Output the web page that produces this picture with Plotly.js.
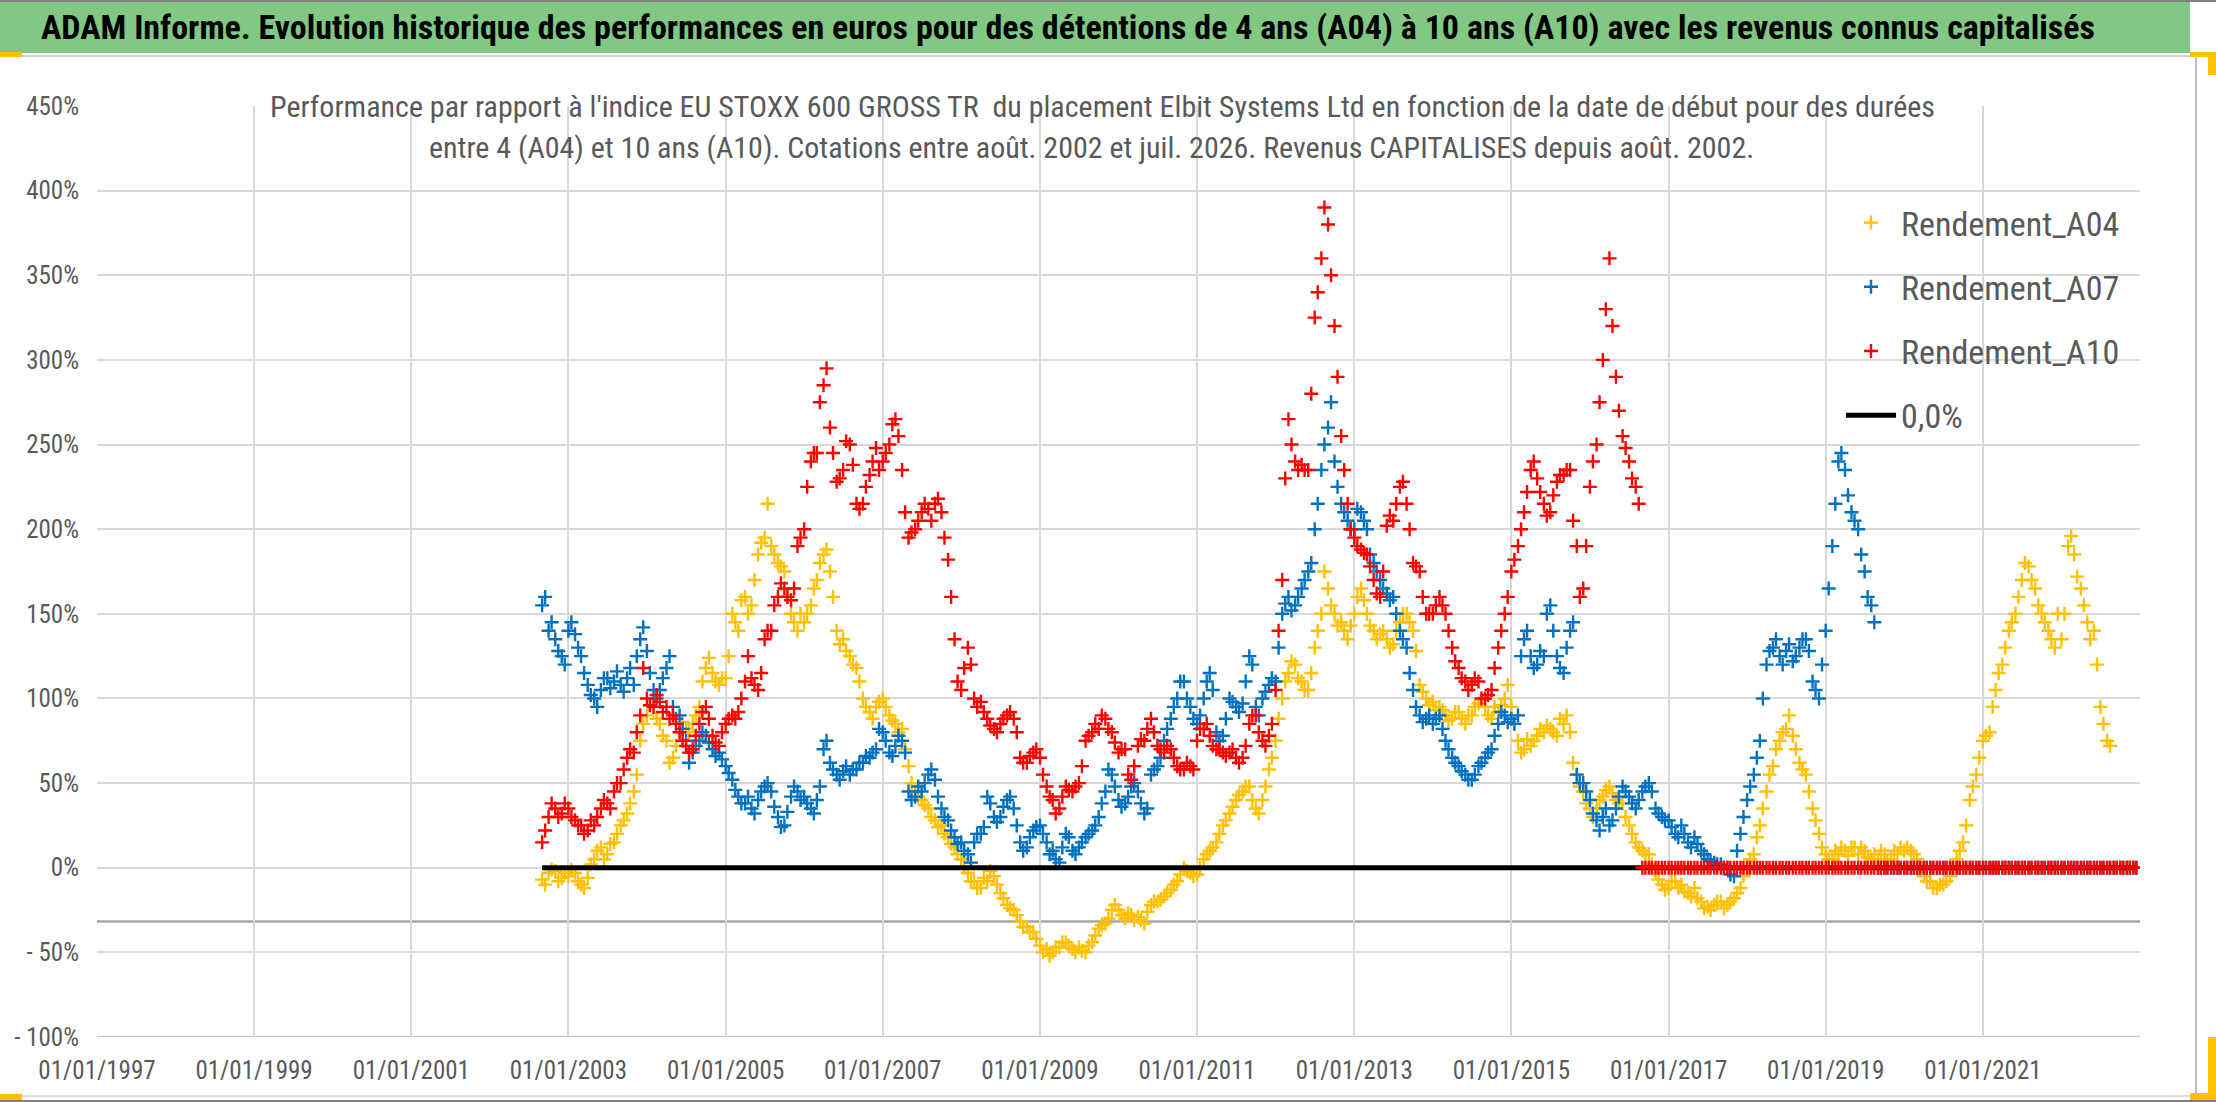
<!DOCTYPE html>
<html>
<head>
<meta charset="utf-8">
<script src="https://cdn.plot.ly/plotly-3.0.1.min.js"></script>
<style>
html,body{margin:0;padding:0;background:#fff;}
#chart{width:2216px;height:1102px;}
</style>
</head>
<body>
<div id="chart"></div>
<script>
// ---------------- DATA ----------------
// Two readings per month: one at the 1st and one at the 15th, starting this month.
const startMonth = '2002-09';

// Rendement_A04 (%), Sep 2002 -> Dec 2022, reading on the 1st of each month
const a04 = [
  -7, -3, -2, -6,
  -5, -3, -10, -6, 5, 12, 8, 15, 25, 32, 45, 75,
  90, 95, 85, 75, 65, 80, 82, 85, 95, 118, 115, 108,
  112, 150, 140, 160, 155, 185, 195, 190, 180, 175, 150, 140,
  145, 155, 170, 185, 175, 140, 135, 125, 118, 100, 92, 95,
  100, 90, 85, 82, 60, 45, 40, 35, 28, 25, 18, 12,
  5, -3, -8, -12, -8, -5, -15, -22, -25, -32, -35, -38,
  -46, -48, -50, -47, -44, -48, -47, -50, -44, -36, -33, -25,
  -25, -30, -28, -29, -33, -22, -20, -17, -13, -8, 0, -3,
  -4, 5, 10, 15, 25, 32, 40, 45, 48, 35, 40, 58,
  75, 100, 115, 120, 110, 105, 130, 150, 165, 150, 145, 135,
  150, 165, 150, 140, 138, 135, 132, 145, 150, 140, 108, 100,
  98, 95, 90, 88, 92, 85, 90, 97, 95, 88, 92, 100,
  95, 75, 70, 72, 78, 80, 82, 78, 85, 80, 55, 45,
  35, 35, 42, 48, 40, 38, 25, 15, 10, 8, -3, -10,
  -12, -8, -10, -15, -12, -20, -23, -22, -20, -22, -18, -12,
  0, 8, 25, 45, 60, 75, 82, 78, 62, 55, 35, 20,
  8, 5, 8, 10, 12, 8, 10, 5, 5, 8, 5, 8,
  10, 10, 5, -5, -8, -12, -10, -5, 5, 15, 40, 55,
  75, 80, 105, 120, 140, 150, 170, 178, 165, 150, 140, 130,
  135, 190, 185, 165, 145, 140, 95, 75, 0, 0, 0, 0
];
// Rendement_A04 (%), reading on the 15th of each month
const a04Mid = [
  -10, -1, -8, -3,
  -1, -8, -12, 2, 10, 5, 14, 20, 28, 38, 55, 85,
  96, 88, 78, 62, 72, 86, 80, 90, 110, 124, 110, 112,
  125, 145, 158, 150, 170, 192, 215, 185, 178, 160, 145, 150,
  150, 165, 180, 188, 160, 132, 128, 120, 110, 95, 88, 98,
  95, 87, 80, 70, 50, 42, 37, 30, 24, 20, 14, 8,
  0, -8, -12, -6, -2, -10, -18, -24, -28, -35, -38, -42,
  -50, -52, -47, -44, -46, -50, -49, -46, -40, -34, -30, -22,
  -28, -27, -31, -31, -26, -20, -19, -15, -10, -4, -2, -5,
  0, 8, 12, 20, 28, 36, 43, 48, 40, 32, 48, 65,
  88, 110, 122, 112, 105, 115, 140, 175, 155, 143, 140, 143,
  160, 158, 143, 135, 140, 130, 140, 150, 145, 128, 104, 96,
  93, 93, 87, 92, 88, 90, 95, 99, 90, 95, 96, 108,
  85, 68, 76, 75, 82, 84, 80, 88, 90, 62, 48, 38,
  30, 40, 46, 44, 38, 30, 20, 12, 8, 2, -7, -13,
  -8, -12, -14, -17, -18, -24, -25, -20, -24, -20, -15, -5,
  5, 18, 35, 55, 70, 80, 90, 70, 58, 45, 28, 12,
  5, 10, 12, 7, 12, 12, 6, 8, 10, 4, 10, 12,
  12, 8, 0, -8, -12, -10, -8, 0, 10, 25, 48, 65,
  78, 95, 115, 130, 145, 160, 180, 170, 155, 145, 135, 150,
  150, 196, 172, 155, 135, 120, 85, 72, 0, 0, 0, 0
];

// Rendement_A07 (%), reading on the 1st of each month
const a07 = [
  155, 140, 135, 125,
  140, 138, 125, 108, 100, 105, 112, 110, 108, 112, 108, 135,
  128, 105, 105, 118, 95, 90, 75, 68, 75, 78, 70, 68,
  60, 52, 42, 38, 35, 40, 48, 45, 30, 25, 42, 45,
  42, 35, 40, 70, 62, 55, 57, 55, 58, 62, 65, 70,
  80, 68, 72, 75, 45, 42, 45, 55, 52, 35, 28, 18,
  15, 8, 15, 20, 42, 30, 30, 40, 35, 15, 12, 22,
  25, 15, 10, 3, 20, 10, 12, 18, 22, 30, 45, 55,
  40, 38, 48, 45, 32, 55, 60, 75, 88, 100, 110, 95,
  85, 100, 115, 80, 78, 100, 95, 97, 125, 95, 100, 108,
  110, 150, 160, 155, 165, 175, 200, 235, 260, 240, 215, 205,
  200, 210, 200, 180, 170, 162, 160, 140, 130, 105, 90, 88,
  85, 90, 75, 65, 60, 55, 52, 60, 65, 70, 85, 90,
  88, 90, 135, 125, 120, 125, 155, 125, 115, 140, 55, 50,
  40, 28, 30, 25, 35, 48, 42, 35, 45, 50, 35, 30,
  28, 20, 25, 15, 18, 10, 5, 3, 2, 0, -5, 20,
  40, 55, 75, 120, 130, 125, 128, 122, 130, 135, 110, 100,
  140, 190, 240, 235, 210, 200, 175, 155, 0, 0, 0, 0,
  0, 0, 0, 0, 0, 0, 0, 0, 0, 0, 0, 0,
  0, 0, 0, 0, 0, 0, 0, 0, 0, 0, 0, 0,
  0, 0, 0, 0, 0, 0, 0, 0, 0, 0, 0, 0
];
// Rendement_A07 (%), reading on the 15th of each month
const a07Mid = [
  160, 145, 128, 120,
  145, 130, 115, 102, 95, 112, 106, 116, 104, 118, 125, 142,
  115, 100, 112, 125, 88, 82, 62, 72, 80, 74, 66, 64,
  56, 46, 38, 42, 32, 45, 50, 36, 24, 33, 48, 40,
  38, 32, 48, 75, 58, 52, 60, 58, 62, 66, 68, 82,
  75, 66, 78, 68, 40, 48, 50, 58, 42, 30, 22, 14,
  10, 3, 20, 24, 38, 27, 36, 42, 25, 10, 18, 24,
  20, 8, 5, 12, 18, 8, 15, 20, 25, 38, 58, 48,
  36, 42, 50, 38, 35, 58, 65, 82, 95, 110, 100, 88,
  90, 110, 105, 75, 88, 98, 92, 110, 120, 90, 104, 112,
  130, 156, 152, 160, 170, 180, 215, 250, 275, 225, 210, 200,
  212, 205, 185, 175, 165, 158, 150, 135, 115, 95, 86, 90,
  88, 82, 70, 62, 57, 52, 55, 62, 68, 78, 92, 86,
  85, 125, 140, 118, 128, 150, 140, 118, 130, 145, 50, 45,
  32, 22, 35, 28, 42, 45, 38, 40, 48, 45, 32, 28,
  24, 18, 20, 12, 14, 8, 4, 2, 0, -4, 10, 30,
  48, 65, 100, 128, 135, 120, 132, 125, 135, 128, 105, 120,
  165, 215, 245, 220, 205, 185, 160, 145, 0, 0, 0, 0,
  0, 0, 0, 0, 0, 0, 0, 0, 0, 0, 0, 0,
  0, 0, 0, 0, 0, 0, 0, 0, 0, 0, 0, 0,
  0, 0, 0, 0, 0, 0, 0, 0, 0, 0, 0, 0
];

// Rendement_A10 (%), reading on the 1st of each month
const a10 = [
  15, 30, 35, 32,
  35, 28, 25, 22, 25, 35, 38, 45, 50, 65, 68, 90,
  100, 95, 98, 95, 90, 80, 72, 70, 85, 95, 78, 72,
  85, 90, 92, 110, 112, 105, 135, 140, 160, 165, 158, 190,
  200, 240, 245, 285, 260, 228, 235, 250, 215, 215, 232, 248,
  240, 250, 265, 235, 195, 200, 210, 212, 215, 210, 182, 135,
  105, 130, 100, 98, 88, 82, 85, 90, 88, 65, 62, 68,
  65, 48, 40, 35, 48, 45, 50, 75, 80, 82, 88, 80,
  68, 70, 52, 72, 75, 88, 72, 68, 70, 60, 58, 60,
  75, 82, 78, 70, 68, 68, 65, 65, 85, 90, 75, 78,
  105, 170, 265, 240, 238, 235, 325, 360, 380, 320, 255, 215,
  195, 188, 185, 170, 160, 202, 205, 225, 215, 180, 175, 150,
  150, 160, 150, 130, 118, 110, 108, 110, 100, 105, 130, 150,
  175, 190, 210, 235, 230, 215, 210, 228, 232, 235, 190, 165,
  225, 250, 300, 360, 290, 255, 240, 225, 0, 0, 0, 0,
  0, 0, 0, 0, 0, 0, 0, 0, 0, 0, 0, 0,
  0, 0, 0, 0, 0, 0, 0, 0, 0, 0, 0, 0,
  0, 0, 0, 0, 0, 0, 0, 0, 0, 0, 0, 0,
  0, 0, 0, 0, 0, 0, 0, 0, 0, 0, 0, 0,
  0, 0, 0, 0, 0, 0, 0, 0, 0, 0, 0, 0,
  0, 0, 0, 0, 0, 0, 0, 0, 0, 0, 0, 0
];
// Rendement_A10 (%), reading on the 15th of each month
const a10Mid = [
  22, 38, 30, 38,
  30, 25, 20, 28, 30, 40, 35, 50, 58, 70, 80, 118,
  96, 102, 92, 88, 85, 75, 68, 78, 92, 88, 74, 80,
  88, 88, 100, 125, 108, 115, 140, 155, 168, 160, 165, 195,
  225, 245, 275, 295, 245, 230, 252, 238, 212, 225, 240, 235,
  245, 262, 255, 210, 198, 205, 215, 205, 218, 195, 160, 110,
  118, 120, 95, 92, 84, 80, 88, 92, 80, 62, 66, 70,
  55, 42, 32, 42, 46, 48, 60, 78, 85, 90, 82, 74,
  70, 55, 60, 76, 82, 80, 70, 72, 65, 58, 62, 58,
  82, 85, 72, 70, 66, 70, 62, 72, 90, 80, 72, 85,
  140, 230, 250, 235, 235, 280, 340, 390, 350, 290, 235, 200,
  190, 186, 178, 162, 175, 208, 215, 228, 200, 178, 160, 150,
  155, 155, 140, 122, 112, 105, 112, 100, 102, 118, 140, 160,
  182, 200, 222, 240, 222, 208, 220, 232, 235, 205, 160, 190,
  240, 275, 330, 320, 270, 248, 230, 215, 0, 0, 0, 0,
  0, 0, 0, 0, 0, 0, 0, 0, 0, 0, 0, 0,
  0, 0, 0, 0, 0, 0, 0, 0, 0, 0, 0, 0,
  0, 0, 0, 0, 0, 0, 0, 0, 0, 0, 0, 0,
  0, 0, 0, 0, 0, 0, 0, 0, 0, 0, 0, 0,
  0, 0, 0, 0, 0, 0, 0, 0, 0, 0, 0, 0,
  0, 0, 0, 0, 0, 0, 0, 0, 0, 0, 0, 0
];

// Reference line (0,0%)
const zeroLineY = [0, 0];
// Horizontal axis crossing line (%)
const axisCross = -31.7;

// Axis ticks
const xTickVals = ['1997-01-01','1999-01-01','2001-01-01','2003-01-01','2005-01-01','2007-01-01',
                   '2009-01-01','2011-01-01','2013-01-01','2015-01-01','2017-01-01','2019-01-01','2021-01-01'];
const xTickText = ['01/01/1997','01/01/1999','01/01/2001','01/01/2003','01/01/2005','01/01/2007',
                   '01/01/2009','01/01/2011','01/01/2013','01/01/2015','01/01/2017','01/01/2019','01/01/2021'];
const yTickVals = [-100, -50, 0, 50, 100, 150, 200, 250, 300, 350, 400, 450];
const yTickText = ['- 100%', '- 50%', '0%', '50%', '100%', '150%', '200%', '250%', '300%', '350%', '400%', '450%'];

const seriesNames = ['Rendement_A04', 'Rendement_A07', 'Rendement_A10', '0,0%'];

const mainTitle = 'ADAM Informe. Evolution historique des performances en euros pour des détentions de 4 ans (A04) à 10 ans (A10) avec les revenus connus capitalisés';
const subLine1 = "Performance par rapport à l'indice EU STOXX 600 GROSS TR  du placement Elbit Systems Ltd en fonction de la date de début pour des durées";
const subLine2 = 'entre 4 (A04) et 10 ans (A10). Cotations entre août. 2002 et juil. 2026. Revenus CAPITALISES depuis août. 2002.';

// ---------------- BUILD ----------------
function monthDates(start, n, day) {
  let [y, m] = start.split('-').map(Number);
  const out = [];
  for (let i = 0; i < n; i++) {
    out.push(y + '-' + String(m).padStart(2, '0') + '-' + day);
    m++; if (m > 12) { m = 1; y++; }
  }
  return out;
}
const dates1 = monthDates(startMonth, a04.length, '01');
const dates15 = monthDates(startMonth, a04Mid.length, '15');
const allDates = dates1.concat(dates15);

const FONT = '"Liberation Sans Narrow", "Roboto Condensed", "Liberation Sans", Arial, sans-serif';
const GRAY = '#595959';

function markerTrace(name, y1, y15, color, rank) {
  return {
    type: 'scatter', mode: 'markers', name: name, x: allDates, y: y1.concat(y15),
    legendgroup: name, legendrank: rank,
    marker: { symbol: 'cross-thin', size: 10, color: color, line: { color: color, width: 2.4 } },
    hoverinfo: 'skip'
  };
}

const traces = [
  markerTrace(seriesNames[0], a04, a04Mid, '#FFC000', 1),
  markerTrace(seriesNames[1], a07, a07Mid, '#0070C0', 2),
  {
    type: 'scatter', mode: 'lines', name: seriesNames[3],
    x: [dates1[0], dates15[dates15.length - 1]], y: zeroLineY,
    legendgroup: 'zero', legendrank: 4,
    line: { color: '#000000', width: 5 }, hoverinfo: 'skip'
  },
  markerTrace(seriesNames[2], a10, a10Mid, '#FF0000', 3)
];

// plot-area geometry in pixels
const W = 2216, H = 1102;
const L = 97, R = 2140, T = 106, B = 1037;
const px = v => (v - L) / (R - L);
const py = v => (B - v) / (B - T);

const layout = {
  width: W, height: H,
  paper_bgcolor: '#ffffff', plot_bgcolor: '#ffffff',
  margin: { l: L, r: W - R, t: T, b: H - B, pad: 0 },
  font: { family: FONT, color: GRAY, size: 22 },
  showlegend: true,
  title: {
    text: mainTitle,
    font: { family: FONT, size: 34, color: '#000000', weight: 'bold' },
    x: px(1068), xanchor: 'center', xref: 'paper',
    y: 1 - 27 / H, yanchor: 'middle', yref: 'container'
  },
  xaxis: {
    type: 'date', range: ['1997-01-01', '2023-01-01'],
    tickmode: 'array', tickvals: xTickVals, ticktext: xTickText,
    showgrid: true, gridcolor: '#D9D9D9', gridwidth: 2,
    zeroline: false, showline: false, ticks: '',
    ticklabelstandoff: 16,
    tickfont: { family: FONT, size: 25, color: GRAY }
  },
  yaxis: {
    range: [-100, 450],
    tickmode: 'array', tickvals: yTickVals, ticktext: yTickText,
    showgrid: true, gridcolor: '#D9D9D9', gridwidth: 2,
    zeroline: false, showline: false, ticks: '',
    ticklabelstandoff: 17,
    tickfont: { family: FONT, size: 25, color: GRAY }
  },
  legend: {
    x: px(1841), xanchor: 'left', y: py(194), yanchor: 'top',
    bgcolor: 'rgba(255,255,255,0)', borderwidth: 0,
    font: { family: FONT, size: 34, color: GRAY },
    traceorder: 'grouped', tracegroupgap: 17, itemwidth: 50
  },
  shapes: [
    // green title bar
    { type: 'rect', xref: 'paper', yref: 'paper', x0: px(0), x1: px(2190), y0: py(53), y1: py(0),
      fillcolor: '#80C883', line: { width: 0 }, layer: 'below' },
    // separator under bar
    { type: 'line', xref: 'paper', yref: 'paper', x0: px(0), x1: px(2196), y0: py(56), y1: py(56),
      line: { color: '#D0D0D0', width: 2 } },
    // right chart border
    { type: 'line', xref: 'paper', yref: 'paper', x0: px(2196), x1: px(2196), y0: py(57), y1: py(1100),
      line: { color: '#BFBFBF', width: 2 } },
    // bottom border
    { type: 'line', xref: 'paper', yref: 'paper', x0: px(0), x1: px(2196), y0: py(1096), y1: py(1096),
      line: { color: '#D9D9D9', width: 2 } },
    { type: 'line', xref: 'paper', yref: 'paper', x0: px(0), x1: px(2216), y0: py(1101), y1: py(1101),
      line: { color: '#808080', width: 2 } },
    // top border
    { type: 'line', xref: 'paper', yref: 'paper', x0: px(0), x1: px(2216), y0: py(1), y1: py(1),
      line: { color: '#808080', width: 2 } },
    // orange selection handles
    { type: 'rect', xref: 'paper', yref: 'paper', x0: px(0), x1: px(22), y0: py(57), y1: py(52),
      fillcolor: '#FFC000', line: { width: 0 } },
    { type: 'rect', xref: 'paper', yref: 'paper', x0: px(0), x1: px(22), y0: py(1100), y1: py(1094),
      fillcolor: '#FFC000', line: { width: 0 } },
    { type: 'rect', xref: 'paper', yref: 'paper', x0: px(2190), x1: px(2216), y0: py(57), y1: py(52),
      fillcolor: '#FFC000', line: { width: 0 } },
    { type: 'rect', xref: 'paper', yref: 'paper', x0: px(2208), x1: px(2216), y0: py(75), y1: py(52),
      fillcolor: '#FFC000', line: { width: 0 } },
    { type: 'rect', xref: 'paper', yref: 'paper', x0: px(2208), x1: px(2216), y0: py(1100), y1: py(1037),
      fillcolor: '#FFC000', line: { width: 0 } },
    { type: 'rect', xref: 'paper', yref: 'paper', x0: px(2190), x1: px(2216), y0: py(1100), y1: py(1093),
      fillcolor: '#FFC000', line: { width: 0 } },
    // horizontal axis crossing line
    { type: 'line', xref: 'paper', yref: 'y', x0: 0, x1: 1, y0: axisCross, y1: axisCross,
      line: { color: '#A6A6A6', width: 2.5 }, layer: 'between' },
    // bottom axis line
    { type: 'line', xref: 'paper', yref: 'y', x0: 0, x1: 1, y0: -100, y1: -100,
      line: { color: '#C8C8C8', width: 2.5 }, layer: 'between' },
    // white box behind subtitle (hides gridlines)
    { type: 'rect', xref: 'paper', yref: 'paper', x0: px(256), x1: px(1946), y0: py(168), y1: py(84),
      fillcolor: '#ffffff', line: { width: 0 }, layer: 'between' },
    // white box behind legend (hides gridlines)
    { type: 'rect', xref: 'paper', yref: 'paper', x0: px(1808), x1: 1, y0: py(450), y1: py(192),
      fillcolor: '#ffffff', line: { width: 0 }, layer: 'between' }
  ],
  annotations: [
    { xref: 'paper', yref: 'paper', x: px(1102), y: py(106), xanchor: 'center', yanchor: 'middle',
      text: subLine1, showarrow: false, font: { family: FONT, size: 30, color: GRAY } },
    { xref: 'paper', yref: 'paper', x: px(1091), y: py(147), xanchor: 'center', yanchor: 'middle',
      text: subLine2, showarrow: false, font: { family: FONT, size: 30, color: GRAY } }
  ]
};

Plotly.newPlot('chart', traces, layout, { displayModeBar: false, staticPlot: true });
</script>
</body>
</html>
